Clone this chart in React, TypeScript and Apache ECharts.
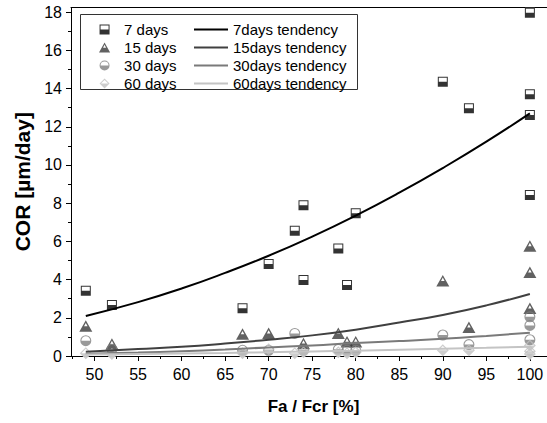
import React, { useEffect, useRef } from 'react';
import * as echarts from 'echarts';

// ---- data ----
const x7 = [49, 52, 67, 70, 73, 74, 74, 78, 79, 80, 90, 93, 100, 100, 100, 100];
const y7 = [3.42, 2.67, 2.5, 4.82, 6.56, 7.89, 3.98, 5.63, 3.72, 7.47, 14.36, 12.97, 17.97, 13.7, 12.62, 8.43];

const x15 = [49, 52, 67, 70, 74, 78, 79, 80, 90, 93, 100, 100, 100];
const y15 = [1.57, 0.63, 1.15, 1.19, 0.66, 1.19, 0.75, 0.75, 3.94, 1.5, 5.76, 4.38, 2.5];

const x30 = [49, 52, 67, 70, 73, 74, 78, 79, 80, 90, 93, 100, 100, 100];
const y30 = [0.8, 0.35, 0.3, 0.3, 1.18, 0.3, 0.35, 0.3, 0.3, 1.1, 0.6, 2.05, 1.6, 0.85];

const x60 = [49, 52, 67, 70, 73, 74, 78, 79, 80, 90, 93, 100, 100, 100];
const y60 = [0.15, 0.1, 0.15, 0.35, 0.15, 0.2, 0.2, 0.15, 0.2, 0.3, 0.3, 0.55, 0.25, 0.1];

const tendX = [49, 55, 60, 65, 70, 75, 80, 85, 90, 95, 100];
const tend7 = [2.09, 2.82, 3.53, 4.35, 5.25, 6.25, 7.35, 8.55, 9.84, 11.22, 12.7];
const tend15 = [0.22, 0.36, 0.48, 0.65, 0.85, 1.08, 1.38, 1.75, 2.15, 2.65, 3.25];
const tend30 = [0.12, 0.18, 0.25, 0.34, 0.45, 0.55, 0.68, 0.78, 0.9, 1.05, 1.22];
const tend60 = [0.08, 0.1, 0.13, 0.16, 0.2, 0.24, 0.28, 0.33, 0.38, 0.43, 0.49];

const scatterNames = ['7 days', '15 days', '30 days', '60 days'];
const lineNames = ['7days tendency', '15days tendency', '30days tendency', '60days tendency'];

const xTickValues = [50, 55, 60, 65, 70, 75, 80, 85, 90, 95, 100];
const xMinorTickValues = [47.5, 52.5, 57.5, 62.5, 67.5, 72.5, 77.5, 82.5, 87.5, 92.5, 97.5, 102.5];
const yTickValues = [0, 2, 4, 6, 8, 10, 12, 14, 16, 18];
const yMinorTickValues = [1, 3, 5, 7, 9, 11, 13, 15, 17];

// ---- styling ----
const FONT = '"Liberation Sans", Arial, Helvetica, sans-serif';
const C7 = '#000000';
const C15 = '#3a3a3a';
const C30 = '#7f7f7f';
const C60 = '#c0c0c0';

// half-filled symbols: outline + lower half filled (top half is a hole)
const SQUARE = 'path://M0,0H20V20H0Z M2,2V10H18V2Z';
const TRIANGLE = 'path://M10,0L20,18L0,18Z M10,4.12L7.29,9.3L12.71,9.3Z';
const CIRCLE = 'path://M0,10A10,10,0,1,1,20,10A10,10,0,1,1,0,10Z M2,10L18,10A8,8,0,0,0,2,10Z';
const DIAMOND = 'path://M10,0L20,10L10,20L0,10Z M10,2.83L2.83,10L17.17,10Z';
const LINE_ICON = 'path://M0,0H34V2H0Z';

const zip = (xs: number[], ys: number[]) => xs.map((x, i) => [x, ys[i]]);

const X_MIN = 47.3;
const X_MAX = 103;
const Y_MIN = 0;
const Y_MAX = 18.25;

export default function App() {
  const ref = useRef<HTMLDivElement>(null);

  useEffect(() => {
    if (!ref.current) return;
    const chart = echarts.init(ref.current, undefined, { renderer: 'svg' });

    const scatterDefs = [
      { name: scatterNames[0], xs: x7, ys: y7, sym: SQUARE, base: 'rect', size: 10 as any, color: C7 },
      { name: scatterNames[1], xs: x15, ys: y15, sym: TRIANGLE, base: 'triangle', size: [13, 11.5] as any, color: C15 },
      { name: scatterNames[2], xs: x30, ys: y30, sym: CIRCLE, base: 'circle', size: 11 as any, color: C30 },
      { name: scatterNames[3], xs: x60, ys: y60, sym: DIAMOND, base: 'diamond', size: 12 as any, color: C60 },
    ];
    const lineDefs = [
      { name: lineNames[0], ys: tend7, color: C7 },
      { name: lineNames[1], ys: tend15, color: '#404040' },
      { name: lineNames[2], ys: tend30, color: '#7a7a7a' },
      { name: lineNames[3], ys: tend60, color: '#c4c4c4' },
    ];

    const series: any[] = [];
    scatterDefs.forEach((d) => {
      series.push({
        type: 'scatter',
        name: d.name + ' base',
        data: zip(d.xs, d.ys),
        symbol: d.base,
        symbolSize: d.size,
        itemStyle: { color: '#ffffff' },
        silent: true,
        z: 2,
      });
      series.push({
        type: 'scatter',
        name: d.name,
        data: zip(d.xs, d.ys),
        symbol: d.sym,
        symbolSize: d.size,
        itemStyle: { color: d.color },
        z: 3,
      });
    });
    lineDefs.forEach((d) => {
      series.push({
        type: 'line',
        name: d.name,
        data: zip(tendX, d.ys),
        smooth: true,
        symbol: 'none',
        showSymbol: false,
        lineStyle: { color: d.color, width: 2 },
        itemStyle: { color: d.color },
        z: 4,
      });
    });

    const axisText = { fontFamily: FONT, fontSize: 16, color: '#000' };

    chart.setOption({
      animation: false,
      backgroundColor: '#ffffff',
      textStyle: { fontFamily: FONT },
      grid: {
        left: 71,
        top: 7.4,
        width: 485,
        height: 348.6,
        containLabel: false,
        outerBoundsMode: 'none',
      },
      xAxis: [
        {
          type: 'value',
          min: X_MIN,
          max: X_MAX,
          position: 'bottom',
          axisLine: { show: true, onZero: false, lineStyle: { color: '#000', width: 1 } },
          axisTick: { show: true, length: 5, customValues: xTickValues, lineStyle: { color: '#000' } },
          axisLabel: { ...axisText, margin: 10, customValues: xTickValues },
          splitLine: { show: false },
          name: 'Fa / Fcr [%]',
          nameLocation: 'middle',
          nameGap: 42,
          nameTextStyle: { fontFamily: FONT, fontSize: 17, fontWeight: 'bold', color: '#000' },
        },
        {
          type: 'value',
          min: X_MIN,
          max: X_MAX,
          position: 'bottom',
          axisLine: { show: false, onZero: false },
          axisTick: { show: true, length: 3, customValues: xMinorTickValues, lineStyle: { color: '#000' } },
          axisLabel: { show: false },
          splitLine: { show: false },
        },
        {
          type: 'value',
          min: X_MIN,
          max: X_MAX,
          position: 'top',
          axisLine: { show: true, onZero: false, lineStyle: { color: '#000', width: 1 } },
          axisTick: { show: false },
          axisLabel: { show: false },
          splitLine: { show: false },
        },
      ],
      yAxis: [
        {
          type: 'value',
          min: Y_MIN,
          max: Y_MAX,
          position: 'left',
          axisLine: { show: true, onZero: false, lineStyle: { color: '#000', width: 1 } },
          axisTick: { show: true, length: 5, customValues: yTickValues, lineStyle: { color: '#000' } },
          axisLabel: { ...axisText, margin: 9, customValues: yTickValues },
          splitLine: { show: false },
          name: 'COR [µm/day]',
          nameLocation: 'middle',
          nameGap: 36,
          nameRotate: 90,
          nameTextStyle: { fontFamily: FONT, fontSize: 21, fontWeight: 'bold', color: '#000' },
        },
        {
          type: 'value',
          min: Y_MIN,
          max: Y_MAX,
          position: 'left',
          axisLine: { show: false, onZero: false },
          axisTick: { show: true, length: 3, customValues: yMinorTickValues, lineStyle: { color: '#000' } },
          axisLabel: { show: false },
          splitLine: { show: false },
        },
      ],
      legend: [
        {
          data: scatterNames,
          orient: 'vertical',
          left: 99,
          top: 22,
          padding: 0,
          itemWidth: 29,
          itemHeight: 10,
          itemGap: 3,
          selectedMode: false,
          textStyle: { fontFamily: FONT, fontSize: 15, color: '#000' },
        },
        {
          data: lineNames.map((n) => ({ name: n, icon: LINE_ICON })),
          orient: 'vertical',
          left: 194,
          top: 22,
          padding: 0,
          itemWidth: 34,
          itemHeight: 10,
          itemGap: 3,
          selectedMode: false,
          textStyle: { fontFamily: FONT, fontSize: 15, color: '#000' },
        },
      ],
      graphic: [
        {
          type: 'rect',
          shape: { x: 80.5, y: 14.5, width: 277, height: 75 },
          style: { fill: '#ffffff', stroke: '#333', lineWidth: 1 },
          z: 1,
        },
      ],
      series,
    });

    return () => chart.dispose();
  }, []);

  return (
    <div
      ref={ref}
      style={{ position: 'fixed', left: 0, top: 0, width: 547, height: 423, background: '#fff' }}
    />
  );
}
